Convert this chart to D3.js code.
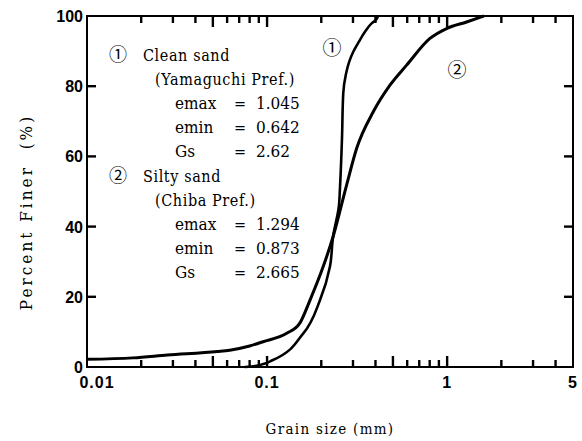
<!DOCTYPE html>
<html>
<head>
<meta charset="utf-8">
<script src="https://cdn.jsdelivr.net/npm/d3@7"></script>
<style>
  body { margin: 0; background: #fff; }
  .axisText { font-family: "DejaVu Serif", serif; font-stretch: condensed; fill: #000; }
  .note { font-family: "DejaVu Serif", serif; font-stretch: condensed; font-size: 16px; fill: #000; white-space: pre; }
  .circled { font-family: "Noto Sans CJK JP", "DejaVu Sans", sans-serif; fill: #000; }
  .tickLabel { font-family: "Liberation Sans", Arial, sans-serif; font-weight: bold; font-size: 16px; fill: #000; }
  .tick { stroke: #000; stroke-width: 2.4px; fill: none; }
</style>
</head>
<body>
<div id="chart"></div>
<script>
// Grain size distribution curves (percent finer vs grain size in mm)
var size1 = [0.075, 0.0857, 0.1078, 0.159, 0.1966, 0.2235, 0.2325, 0.2507, 0.254, 0.2606, 0.2649, 0.2742, 0.286, 0.3011, 0.3238, 0.3497, 0.3808, 0.4025, 0.4128];
var finer1 = [0, 0.3, 2.0, 9.6, 19, 28.6, 37.1, 46, 51, 65, 78, 83.5, 87, 89.8, 92.7, 95.5, 97.9, 98.9, 100];

var size2 = [0.01, 0.018, 0.028, 0.053, 0.062, 0.08, 0.095, 0.1285, 0.152, 0.173, 0.205, 0.2325, 0.2767, 0.3145, 0.3888, 0.4814, 0.5957, 0.8027, 1.0, 1.283, 1.52, 1.6];
var finer2 = [2.2, 2.6, 3.4, 4.4, 4.8, 6.0, 7.2, 9.6, 12.5, 19, 28.6, 37.1, 51.9, 62.3, 72.7, 80.3, 86, 93.6, 96.5, 98.3, 99.6, 100];

var xTickLabels = [0.01, 0.1, 1, 5];
var xMajorTicks = [0.05, 0.1, 0.5, 1];
var xMinorTicks = [0.02, 0.03, 0.04, 0.06, 0.07, 0.08, 0.09, 0.2, 0.3, 0.4, 0.6, 0.7, 0.8, 0.9, 2, 3, 4];
var yTicks = [0, 20, 40, 60, 80, 100];
var yInnerTicks = [20, 40, 60, 80];

var sample1 = ["Clean sand", "(Yamaguchi Pref.)"];
var props1 = [["emax", "1.045"], ["emin", "0.642"], ["Gs", "2.62"]];
var sample2 = ["Silty sand", "(Chiba Pref.)"];
var props2 = [["emax", "1.294"], ["emin", "0.873"], ["Gs", "2.665"]];

var svgWidth = 582;
var svgHeight = 441;

var margin = { top: 16, right: 9, bottom: 74, left: 87 };
var width = svgWidth - margin.left - margin.right;
var height = svgHeight - margin.top - margin.bottom;

var svg = d3.select("#chart")
  .append("svg")
  .attr("width", svgWidth)
  .attr("height", svgHeight)
  .style("background", "#fff");

var chartGroup = svg.append("g")
  .attr("transform", `translate(${margin.left}, ${margin.top})`);

var xLogScale = d3.scaleLog()
  .domain([0.01, 5])
  .range([0, width]);

var yLinearScale = d3.scaleLinear()
  .domain([0, 100])
  .range([height, 0]);

// frame
chartGroup.append("rect")
  .attr("width", width)
  .attr("height", height)
  .attr("fill", "none")
  .attr("stroke", "#000")
  .attr("stroke-width", 2);

// curves
var line1 = d3.line()
  .x(d => xLogScale(d[0]))
  .y(d => yLinearScale(d[1]))
  .curve(d3.curveMonotoneY);

var line2 = d3.line()
  .x(d => xLogScale(d[0]))
  .y(d => yLinearScale(d[1]))
  .curve(d3.curveMonotoneX);

chartGroup.append("path")
  .datum(d3.zip(size1, finer1))
  .attr("d", line1)
  .attr("fill", "none")
  .attr("stroke", "#000")
  .attr("stroke-width", 2.6);

chartGroup.append("path")
  .datum(d3.zip(size2, finer2))
  .attr("d", line2)
  .attr("fill", "none")
  .attr("stroke", "#000")
  .attr("stroke-width", 3);

// inward tick marks on all four sides
var tickGroup = chartGroup.append("g");
[[xMinorTicks, 7], [xMajorTicks, 11]].forEach(function(set) {
  tickGroup.selectAll(null).data(set[0]).enter().append("polyline")
    .attr("class", "tick")
    .attr("points", d => `${xLogScale(d)},${height} ${xLogScale(d)},${height - set[1]}`);
  tickGroup.selectAll(null).data(set[0]).enter().append("polyline")
    .attr("class", "tick")
    .attr("points", d => `${xLogScale(d)},0 ${xLogScale(d)},${set[1]}`);
});
tickGroup.selectAll(null).data(yInnerTicks).enter().append("polyline")
  .attr("class", "tick")
  .attr("points", d => `0,${yLinearScale(d)} 9,${yLinearScale(d)}`);
tickGroup.selectAll(null).data(yInnerTicks).enter().append("polyline")
  .attr("class", "tick")
  .attr("points", d => `${width},${yLinearScale(d)} ${width - 9},${yLinearScale(d)}`);

// tick labels
chartGroup.append("g").selectAll("text").data(xTickLabels).enter().append("text")
  .attr("class", "tickLabel")
  .attr("x", d => xLogScale(d) + (d === 0.01 ? 10 : 0))
  .attr("y", height + 21)
  .attr("text-anchor", "middle")
  .style("letter-spacing", "1px")
  .text(d => String(d));

chartGroup.append("g").selectAll("text").data(yTicks).enter().append("text")
  .attr("class", "tickLabel")
  .attr("x", -4)
  .attr("y", d => yLinearScale(d) + 6)
  .attr("text-anchor", "end")
  .text(d => d);

// curve markers
svg.append("text").attr("class", "circled")
  .attr("x", 332).attr("y", 55)
  .attr("text-anchor", "middle").style("font-size", "19px")
  .text("①");
svg.append("text").attr("class", "circled")
  .attr("x", 457).attr("y", 77)
  .attr("text-anchor", "middle").style("font-size", "19px")
  .text("②");

// sample descriptions
function sampleBlock(num, lines, props, y0) {
  var g = svg.append("g");
  g.append("text").attr("class", "circled").attr("x", 109).attr("y", y0).style("font-size", "18px").text(num);
  g.append("text").attr("class", "note").attr("x", 143).attr("y", y0).style("letter-spacing", "0.6px").text(lines[0]);
  g.append("text").attr("class", "note").attr("x", 155).attr("y", y0 + 24).style("letter-spacing", "0.6px").text(lines[1]);
  props.forEach(function(p, i) {
    var y = y0 + 48 + i * 24;
    g.append("text").attr("class", "note").attr("x", 175).attr("y", y).style("font-size", "17px").text(p[0]);
    g.append("text").attr("class", "note").attr("x", 234).attr("y", y).text("=");
    g.append("text").attr("class", "note").attr("x", 256).attr("y", y).style("font-size", "17px").text(p[1]);
  });
}
sampleBlock("①", sample1, props1, 61);
sampleBlock("②", sample2, props2, 182);

// axis titles
svg.append("text")
  .attr("class", "axisText")
  .attr("transform", "rotate(-90)")
  .attr("x", -212)
  .attr("y", 32)
  .attr("text-anchor", "middle")
  .style("font-size", "17px")
  .style("letter-spacing", "3px")
  .style("white-space", "pre")
  .text("Percent Finer  (%)");

svg.append("text")
  .attr("class", "axisText")
  .attr("x", 330)
  .attr("y", 434)
  .attr("text-anchor", "middle")
  .style("font-size", "15px")
  .style("letter-spacing", "1.3px")
  .text("Grain size (mm)");
</script>
</body>
</html>
